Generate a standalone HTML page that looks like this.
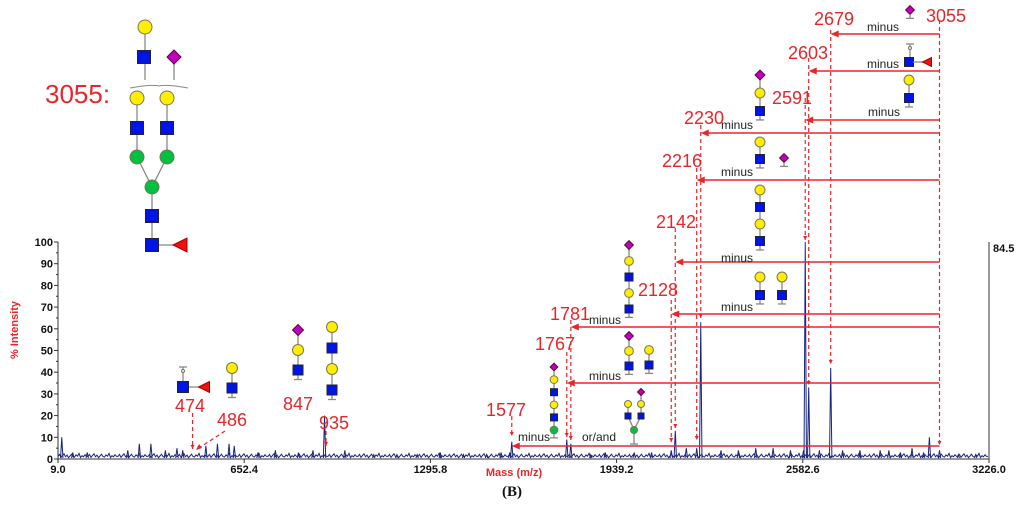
<!DOCTYPE html>
<html><head><meta charset="utf-8">
<style>
html,body{margin:0;padding:0;background:#fff;}
svg{display:block;font-family:"Liberation Sans",Arial,sans-serif;}
.lbl{fill:#e8262a;font-size:18px;}
.mn{fill:#222;font-size:12px;}
.tk{font-size:11px;font-weight:bold;fill:#111;}
</style></head>
<body>
<svg id="chart" width="1024" height="510" viewBox="0 0 1024 510" xmlns="http://www.w3.org/2000/svg">
<g id="axes"></g>
<g id="spec"></g>
<g id="ann"></g>
<g id="gly"></g>
</svg>
<script>
// ---- data ----
const xTicks = [9.0, 652.4, 1295.8, 1939.2, 2582.6, 3226.0];
const yTicks = [0,10,20,30,40,50,60,70,80,90,100];
const peakMasses = [22,60,110,250,290,330,380,420,440,520,560,600,618,700,760,840,890,930,1000,1100,1180,1250,1330,1410,1490,1540,1570,1577,1767,1781,1850,1900,2000,2060,2128,2142,2180,2216,2230,2300,2360,2420,2480,2540,2585,2591,2603,2640,2679,2720,2780,2850,2880,2920,2960,3000,3020,3055,3120,3180];
const peakInts = [10,3,3,4,7,7,4,5,4,6,7,7,6,3,4,3,4,20,4,2,2,2,3,2,2,3,3,8,9,7,2,3,3,3,4,13,5,5,63,4,4,5,5,4,4,100,33,4,42,4,4,4,4,3,5,3,10,4,2,2];
const noise = [1.2,2.1,0.8,1.6,2.4,1.0,1.8,0.6,1.4,2.2,1.1,0.9,1.9,1.3,2.6,0.7,1.5,1.0,2.0,1.2];
// ---- scales ----
const X0=58,X1=989,Y0=459,Y1=242;
const xs=m=>X0+(m-9)/(3226-9)*(X1-X0);
const ys=v=>Y0-v/100*(Y0-Y1);
const NS="http://www.w3.org/2000/svg";
function mk(p,tag,at,txt){const e=document.createElementNS(NS,tag);for(const k in at)e.setAttribute(k,at[k]);if(txt!==undefined)e.textContent=txt;p.appendChild(e);return e;}
const axes=document.getElementById('axes'),spec=document.getElementById('spec'),ann=document.getElementById('ann'),gly=document.getElementById('gly');
// axes
let a=mk(axes,'line',{x1:X0,y1:Y1,x2:X0,y2:Y0,stroke:'#333','stroke-width':1});


a=mk(axes,'line',{x1:X0,y1:Y0,x2:X1,y2:Y0,stroke:'#333','stroke-width':1});


a=mk(axes,'line',{x1:X1,y1:Y1,x2:X1,y2:Y0,stroke:'#333','stroke-width':1});


yTicks.forEach(v=>{
  mk(axes,'line',{x1:X0-4,y1:ys(v),x2:X0,y2:ys(v),stroke:'#333'});
  if(v<100) mk(axes,'line',{x1:X0-2,y1:ys(v+5),x2:X0,y2:ys(v+5),stroke:'#333'});
  const t=mk(axes,'text',{x:X0-5,y:ys(v)+4,'text-anchor':'end',class:'tk'},String(v));
  
  
});
xTicks.forEach(v=>{
  mk(axes,'line',{x1:xs(v),y1:Y0,x2:xs(v),y2:Y0+4,stroke:'#333'});
  const t=mk(axes,'text',{x:xs(v),y:Y0+14,'text-anchor':'middle',class:'tk'},v.toFixed(1));
  
  
});
let t=mk(axes,'text',{x:X1+4,y:252,class:'tk'},'84.5');


t=mk(axes,'text',{x:18,y:330,transform:'rotate(-90 18 330)','text-anchor':'middle',fill:'#e8262a','font-size':'11px','font-weight':'bold'},'% Intensity');


t=mk(axes,'text',{x:514,y:476,'text-anchor':'middle',fill:'#e8262a','font-size':'11px','font-weight':'bold'},'Mass (m/z)');


t=mk(axes,'text',{x:512,y:496,'text-anchor':'middle','font-family':'Liberation Serif,serif','font-size':'15px','font-weight':'bold',fill:'#111'},'(B)');


// spectrum
let pts=[];
let idx=0;
for(let px=X0;px<=X1;px+=1.5){const n=noise[idx%noise.length];idx++;pts.push(px+','+ys(n).toFixed(1));}
let base=mk(spec,'polyline',{points:pts.join(' '),fill:'none',stroke:'#1a237e','stroke-width':1});


peakMasses.forEach((m,i)=>{
  const x=xs(m);
  const p=mk(spec,'polyline',{points:`${x-1.2},${Y0-1} ${x},${ys(peakInts[i])} ${x+1.2},${Y0-1}`,fill:'none',stroke:'#1a237e','stroke-width':1});
  
  
});
// annotations
const red='#e8262a';
function vd(m,y1,y2){mk(ann,'line',{x1:xs(m),y1:y1,x2:xs(m),y2:y2,stroke:red,'stroke-width':1.2,'stroke-dasharray':'4,3'});mk(ann,'path',{d:`M${xs(m)-2},${y2-4} L${xs(m)+2},${y2-4} L${xs(m)},${y2} Z`,fill:red});}
function harrow(m,y){const x=xs(m);mk(ann,'line',{x1:x+4,y1:y,x2:xs(3055),y2:y,stroke:red,'stroke-width':1.6});mk(ann,'path',{d:`M${x},${y} L${x+8},${y-3.5} L${x+8},${y+3.5} Z`,fill:red});}
function lbl(x,y,s,name){const e=mk(ann,'text',{x:x,y:y,class:'lbl'},s);}
function mn(x,y,s){const e=mk(ann,'text',{x:x,y:y,class:'mn'},s||'minus');}
vd(3055,20,445);
vd(2679,30,364);vd(2603,58,385);vd(2591,98,240);vd(2230,125,318);vd(2216,168,440);
vd(2142,228,428);vd(2128,300,442);vd(1781,320,440);vd(1767,352,437);vd(1577,416,436);
harrow(2679,34);harrow(2603,71);harrow(2591,120);harrow(2230,133);harrow(2216,180);
harrow(2142,262);harrow(2128,314);harrow(1781,327);harrow(1767,383);harrow(1577,446);
lbl(926,22,'3055','label-3055');lbl(814,25,'2679','label-2679');lbl(788,59,'2603','label-2603');
lbl(772,104,'2591','label-2591');lbl(684,124,'2230','label-2230');lbl(662,167,'2216','label-2216');
lbl(656,228,'2142','label-2142');lbl(638,296,'2128','label-2128');lbl(550,320,'1781','label-1781');
lbl(535,350,'1767','label-1767');lbl(486,416,'1577','label-1577');
lbl(175,412,'474','label-474');lbl(217,426,'486','label-486');lbl(283,410,'847','label-847');lbl(319,429,'935','label-935');
mn(867,31);mn(867,68);mn(868,116);mn(721,129);mn(721,176);mn(721,262);mn(721,311);mn(589,324);mn(589,380);mn(518,441);mn(582,441,'or/and');
vd(474,413,449);
mk(ann,'line',{x1:225,y1:431,x2:199,y2:448,stroke:red,'stroke-width':1.2,'stroke-dasharray':'4,3'});
mk(ann,'path',{d:'M196,450 L199,444 L202,448 Z',fill:red});
vd(935,431,446);
t=mk(ann,'text',{x:45,y:103,fill:red,'font-size':'26px'},'3055:');


// glycan symbols
const G='#888';
function ln(x1,y1,x2,y2,c){mk(gly,'line',{x1:x1,y1:y1,x2:x2,y2:y2,stroke:c||G,'stroke-width':1.3});}
function sq(x,y,s){mk(gly,'rect',{x:x-s/2,y:y-s/2,width:s,height:s,fill:'#0014e6',stroke:'#223'});}
function ci(x,y,r,c){mk(gly,'circle',{cx:x,cy:y,r:r,fill:c||'#ffee00',stroke:'#775'});}
function di(x,y,r){mk(gly,'path',{d:`M${x},${y-r} L${x+r},${y} L${x},${y+r} L${x-r},${y} Z`,fill:'#c000c0',stroke:'#603'});}
function tri(x,y,s){mk(gly,'path',{d:`M${x-s/2},${y} L${x+s/2},${y-s/2} L${x+s/2},${y+s/2} Z`,fill:'#ee1111',stroke:'#a00'});}
function endCap(x,y){ln(x,y,x,y+4);ln(x-4,y+4,x+4,y+4);}
function topCap(x,y){ln(x-4,y,x+4,y);ln(x,y,x,y+8);ci(x,y+4,1.5,'#fff');}
function col(x,y0,items,step,s){ln(x,y0,x,y0+step*(items.length-1)+s*0.55);items.forEach((k,i)=>{const y=y0+i*step;if(k=='c')ci(x,y,s*0.55);else if(k=='s')sq(x,y,s);else if(k=='d')di(x,y,s*0.55);else if(k=='g')ci(x,y,s*0.55,'#00c040');});endCap(x,y0+step*(items.length-1)+s*0.55);}
// big structure
ln(145,27,145,80);ln(174,57,174,80);
mk(gly,'path',{d:'M130,88 Q152,84 159,86 Q166,84 188,88',fill:'none',stroke:G});
ci(145,27,7);sq(144,57,13);di(174,57,7);
ln(137,98,137,157);ln(167,98,167,157);ln(137,157,152,187);ln(167,157,152,187);ln(152,187,152,245);ln(152,245,183,245);
ci(137,98,7);ci(167,98,7);sq(137,128,13);sq(167,128,13);ci(137,157,7,'#00c040');ci(167,157,7,'#00c040');ci(152,187,7,'#00c040');
sq(152,216,13);sq(152,245,13);tri(180,245,14);
// right column
col(910,10,['d'],1,8);
topCap(910,44);ln(910,52,910,62);sq(909,62,9);ln(913,62,924,62);tri(927,62,9);
col(909,80,['c','s'],18,9);
col(760,75,['d','c','s'],18,9);
col(760,142,['c','s'],17,9);col(784,158,['d'],1,8);
col(760,190,['c','s','c','s'],17,9);
col(760,277,['c','s'],18,9);col(782,277,['c','s'],18,9);
col(629,245,['d','c','s','c','s'],16,8);
col(629,336,['d','c','s'],15,8);col(649,350,['c','s'],15,8);
col(554,367,['d','c','s','c','s','g'],12.6,7);
ln(628,404,628,416);ln(641,392,641,416);ln(628,416,634,430);ln(641,416,634,430);ln(634,430,634,440);endCap(634,440);
ci(628,404,3.5);ci(641,404,3.5);di(641,392,3.5);sq(628,416,6);sq(641,416,6);ci(634,430,3.5,'#00c040');
// low-mass fragments
topCap(183,367);ln(183,375,183,387);ln(183,387,200,387);sq(183,387,11);tri(204,387,11);
col(232,368,['c','s'],20,10);
col(298,330,['d','c','s'],20,10);
col(332,327,['c','s','c','s'],21,10);
</script>
</body></html>
